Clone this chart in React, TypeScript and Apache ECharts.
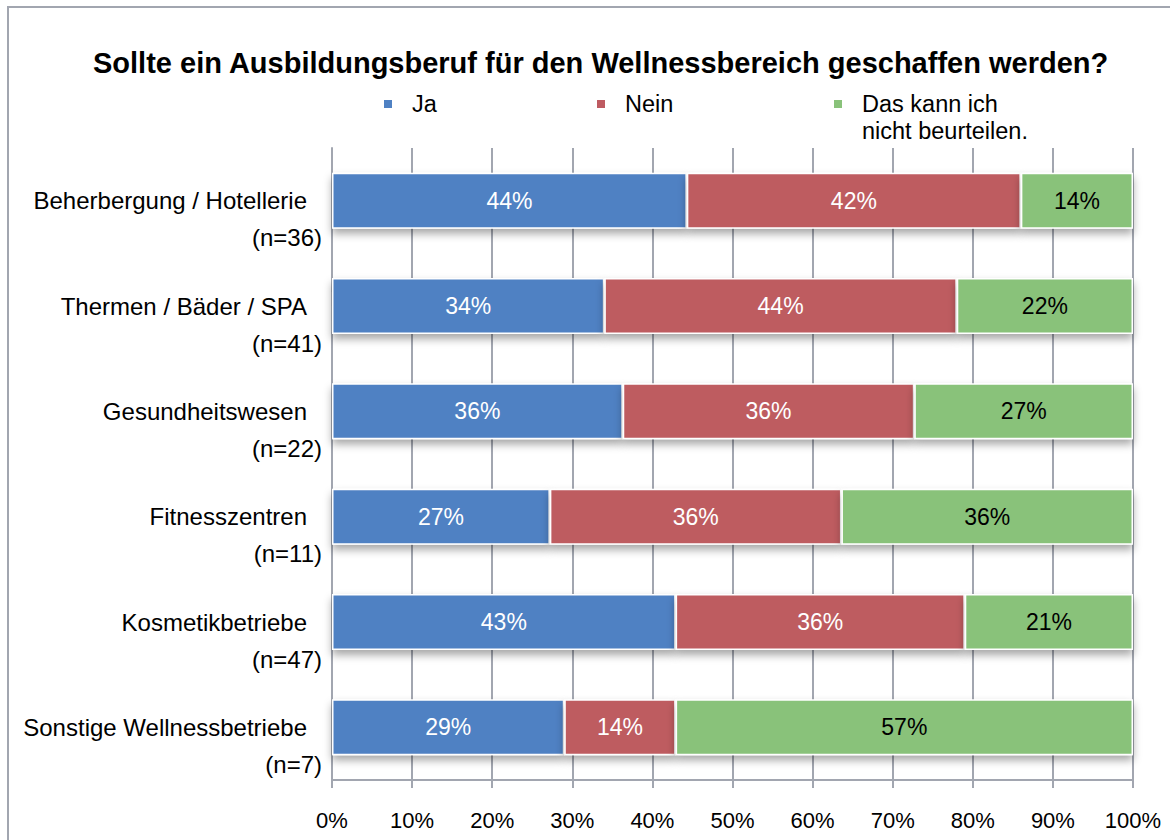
import React, { useEffect, useRef } from "react";
import * as echarts from "echarts";

const titleText = "Sollte ein Ausbildungsberuf für den Wellnessbereich geschaffen werden?";
const categories = [
  "Beherbergung / Hotellerie",
  "Thermen / Bäder / SPA",
  "Gesundheitswesen",
  "Fitnesszentren",
  "Kosmetikbetriebe",
  "Sonstige Wellnessbetriebe",
];
const sampleSizes = ["(n=36)", "(n=41)", "(n=22)", "(n=11)", "(n=47)", "(n=7)"];
const seriesNames = ["Ja", "Nein", "Das kann ich nicht beurteilen."];
const legendLabels = ["Ja", "Nein", " \nDas kann ich\nnicht beurteilen."];
const jaValues = [44.3, 34.0, 36.3, 27.2, 42.9, 29.0];
const neinValues = [41.7, 44.0, 36.4, 36.4, 36.1, 13.9];
const unsureValues = [14.0, 22.0, 27.3, 36.4, 21.0, 57.1];
const xTicks = [0, 10, 20, 30, 40, 50, 60, 70, 80, 90, 100];

const FONT = "'Liberation Sans', Arial, Helvetica, sans-serif";
const COLORS = ["#4F81C3", "#BE5B61", "#89C27A"];
const GRID_COLOR = "#A2A6B0";

export default function App() {
  const ref = useRef<HTMLDivElement>(null);
  useEffect(() => {
    if (!ref.current) return;
    const chart = echarts.init(ref.current, null, { renderer: "svg" });
    const values = [jaValues, neinValues, unsureValues];
    const labelColors = ["#FFFFFF", "#FFFFFF", "#000000"];
    const legendLefts = [382, 595, 832];
    chart.setOption({
      animation: false,
      backgroundColor: "#FFFFFF",
      textStyle: { fontFamily: FONT },
      title: {
        text: titleText,
        left: 88,
        top: 43,
        textStyle: { fontFamily: FONT, fontSize: 29, fontWeight: "bold", color: "#000" },
      },
      legend: seriesNames.map((name, i) => ({
        data: [name],
        left: legendLefts[i],
        top: i === 2 ? 104 - 40.5 : 104 - 13.5,
        padding: 0,
        itemWidth: 10,
        itemHeight: 10,
        icon: "rect",
        selectedMode: false,
        formatter: () => legendLabels[i],
        textStyle: {
          fontFamily: FONT,
          fontSize: 23.5,
          lineHeight: 27,
          color: "#000",
          padding: [0, 0, 0, 14],
        },
      })),
      grid: { left: 332, right: 37, top: 148, bottom: 60, containLabel: false },
      xAxis: {
        type: "value",
        min: 0,
        max: 100,
        interval: 10,
        axisLine: { show: true, lineStyle: { color: GRID_COLOR, width: 2 } },
        axisTick: { show: true, length: 8, lineStyle: { color: GRID_COLOR, width: 2 } },
        splitLine: { show: true, lineStyle: { color: GRID_COLOR, width: 2 } },
        axisLabel: {
          margin: 29,
          fontFamily: FONT,
          fontSize: 22,
          color: "#000",
          formatter: (v: number) => (xTicks.includes(v) ? `${v}%` : ""),
        },
      },
      yAxis: {
        type: "category",
        data: categories,
        inverse: true,
        axisLine: { show: true, lineStyle: { color: GRID_COLOR, width: 2 } },
        axisTick: { show: false },
        splitLine: { show: false },
        axisLabel: {
          margin: 10,
          padding: [37, 0, 0, 0],
          formatter: (value: string, index: number) =>
            `{a|${value}}\n{b|${sampleSizes[index]}}`,
          rich: {
            a: { fontFamily: FONT, fontSize: 24, lineHeight: 37, color: "#000", padding: [0, 15, 0, 0], align: "right" },
            b: { fontFamily: FONT, fontSize: 24, lineHeight: 37, color: "#000", align: "right" },
          },
        },
      },
      series: seriesNames.map((name, i) => ({
        name,
        type: "bar",
        stack: "total",
        barWidth: 56,
        data: values[i],
        itemStyle: {
          color: COLORS[i],
          borderColor: "#FFFFFF",
          borderWidth: 1.5,
          shadowColor: "rgba(0,0,0,0.35)",
          shadowBlur: 8,
          shadowOffsetY: 5,
        },
        label: {
          show: true,
          position: "inside",
          fontFamily: FONT,
          fontSize: 23,
          color: labelColors[i],
          formatter: (p: any) => `${Math.round(p.value)}%`,
        },
      })),
      graphic: [
        {
          type: "rect",
          shape: { x: 8, y: 7, width: 1300, height: 1000 },
          style: { fill: "none", stroke: "#A2A6B0", lineWidth: 2 },
          silent: true,
          z: 100,
        },
      ],
    });
    return () => chart.dispose();
  }, []);
  return (
    <div
      ref={ref}
      style={{ position: "absolute", left: 0, top: 0, width: 1170, height: 840 }}
    />
  );
}
